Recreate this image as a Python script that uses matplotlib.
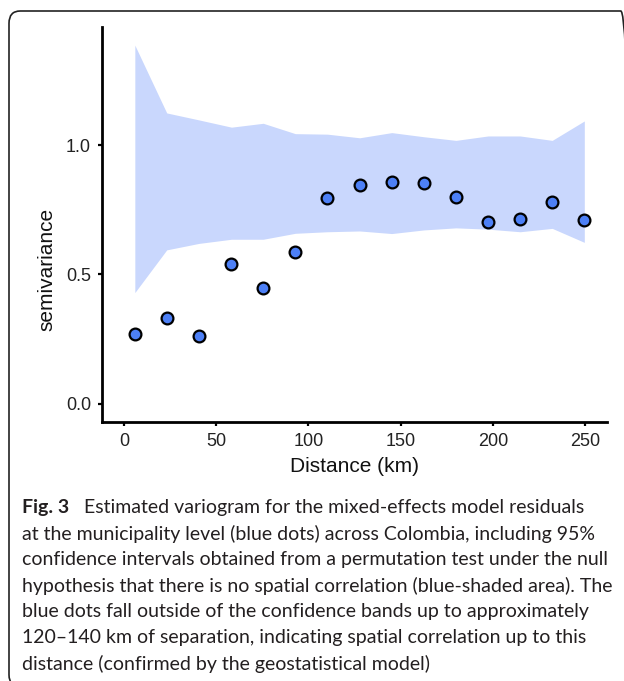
import matplotlib.pyplot as plt
from matplotlib.patches import FancyBboxPatch
import numpy as np

# variogram estimates
distance = [5.9, 23.2, 40.7, 58.3, 75.5, 92.9, 110.3, 127.8, 145.2,
            162.6, 180.0, 197.4, 214.8, 232.2, 249.6]
semivariance = [0.270, 0.332, 0.264, 0.539, 0.449, 0.588, 0.794, 0.844,
                0.857, 0.853, 0.800, 0.702, 0.713, 0.779, 0.712]
# 95% permutation envelope
env_upper = [1.386, 1.124, 1.097, 1.069, 1.084, 1.044, 1.042, 1.028,
             1.048, 1.032, 1.018, 1.035, 1.035, 1.018, 1.093]
env_lower = [0.430, 0.595, 0.620, 0.636, 0.636, 0.659, 0.665, 0.668,
             0.658, 0.672, 0.680, 0.675, 0.665, 0.678, 0.624]

x_ticks = [0, 50, 100, 150, 200, 250]
y_ticks = [0.0, 0.5, 1.0]

caption_lines = [
    "Estimated variogram for the mixed-effects model residuals",
    "at the municipality level (blue dots) across Colombia, including 95%",
    "confidence intervals obtained from a permutation test under the null",
    "hypothesis that there is no spatial correlation (blue-shaded area). The",
    "blue dots fall outside of the confidence bands up to approximately",
    "120\u2013140 km of separation, indicating spatial correlation up to this",
    "distance (confirmed by the geostatistical model)",
]

plt.rcParams['font.family'] = ['Liberation Sans', 'DejaVu Sans']

fig = plt.figure(figsize=(6.24, 6.81), dpi=100)
W, H = 624, 681

# rounded frame around the figure panel (runs off the right/bottom edges)
frame = FancyBboxPatch((9 / W, 1 - 687 / H), (632 - 9) / W, (687 - 11) / H,
                       boxstyle="round,pad=0,rounding_size=0.018",
                       transform=fig.transFigure, fill=False,
                       edgecolor='#222222', linewidth=1.2)
fig.patches.append(frame)

ax = fig.add_axes([102 / W, 1 - 422 / H, (607 - 102) / W, (422 - 27) / H])

ax.fill_between(distance, env_lower, env_upper, color='#c9d7fd', linewidth=0)
ax.scatter(distance, semivariance, s=72, facecolor='#4d80f6',
           edgecolor='black', linewidth=1.6, zorder=3)

ax.set_xlim(-11.9, 261.9)
ax.set_ylim(-0.07, 1.456)
ax.set_xticks(x_ticks)
ax.set_yticks(y_ticks)
ax.set_yticklabels(['0.0', '0.5', '1.0'])

for side in ['top', 'right']:
    ax.spines[side].set_visible(False)
for side in ['left', 'bottom']:
    ax.spines[side].set_linewidth(2)
ax.tick_params(length=3, width=1.6, labelsize=13, colors='black',
               labelcolor='#222222', pad=5)

# axis titles
fig.text(355 / W, 1 - 467 / H, 'Distance (km)', fontsize=15,
         color='#111111', ha='center', va='center')
fig.text(46.5 / W, 1 - 269 / H, 'semivariance', fontsize=15, rotation=90,
         color='#111111', ha='center', va='center')

# caption
cap_font = ['Lato', 'DejaVu Sans']
y0 = 508
for i, line in enumerate(caption_lines):
    y = 1 - (y0 + 26 * i) / H
    if i == 0:
        fig.text(22 / W, y, "Fig. 3", fontsize=14, fontweight='bold',
                 family=cap_font, va='center', color='#231f20')
        fig.text(84 / W, y, line, fontsize=14, family=cap_font,
                 va='center', color='#231f20')
    else:
        fig.text(22 / W, y, line, fontsize=14, family=cap_font,
                 va='center', color='#231f20')

fig.savefig('out.png', dpi=100)
